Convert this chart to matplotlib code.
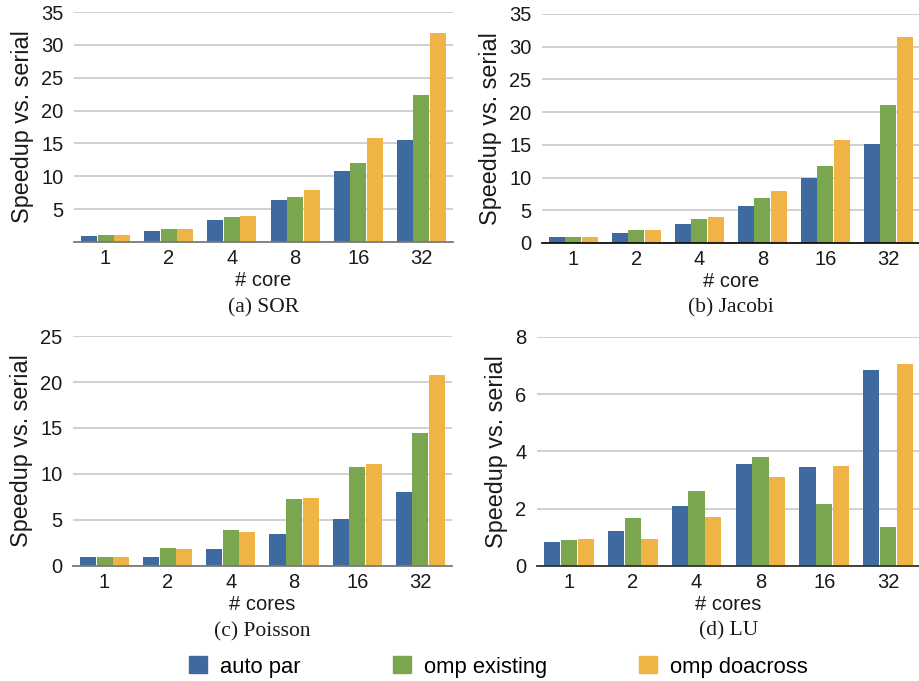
import matplotlib.pyplot as plt
import matplotlib.patches as mpatches
import numpy as np

plt.rcParams['font.family'] = ['Liberation Sans', 'DejaVu Sans']

cores = ['1', '2', '4', '8', '16', '32']
series_names = ['auto par', 'omp existing', 'omp doacross']
colors = ['#3F6A9F', '#79A64F', '#F0B446']

sor_auto = [0.91, 1.68, 3.35, 6.40, 10.82, 15.54]
sor_existing = [1.07, 1.98, 3.81, 6.86, 12.04, 22.40]
sor_doacross = [1.07, 1.98, 3.96, 7.92, 15.85, 31.84]

jacobi_auto = [0.97, 1.58, 2.95, 5.70, 9.97, 15.16]
jacobi_existing = [0.97, 2.03, 3.71, 6.92, 11.80, 21.10]
jacobi_doacross = [0.97, 2.03, 4.02, 7.99, 15.77, 31.49]

poisson_auto = [0.98, 0.98, 1.85, 3.48, 5.11, 8.04]
poisson_existing = [0.98, 1.96, 3.91, 7.28, 10.76, 14.46]
poisson_doacross = [0.98, 1.85, 3.70, 7.39, 11.09, 20.76]

lu_auto = [0.84, 1.22, 2.09, 3.56, 3.45, 6.84]
lu_existing = [0.91, 1.67, 2.62, 3.80, 2.16, 1.36]
lu_doacross = [0.94, 0.94, 1.71, 3.10, 3.49, 7.05]

panels = [
    # rect, series, ylim, yticks, xlabel, caption, spine colour
    ([0.0804, 0.6446, 0.412, 0.3377], [sor_auto, sor_existing, sor_doacross],
     35, [5, 10, 15, 20, 25, 30, 35], '# core', '(a) SOR', '#7a7a7a'),
    ([0.589, 0.6432, 0.411, 0.3363], [jacobi_auto, jacobi_existing, jacobi_doacross],
     35, [0, 5, 10, 15, 20, 25, 30, 35], '# core', '(b) Jacobi', '#111111'),
    ([0.0793, 0.1689, 0.412, 0.3377], [poisson_auto, poisson_existing, poisson_doacross],
     25, [0, 5, 10, 15, 20, 25], '# cores', '(c) Poisson', '#7a7a7a'),
    ([0.5837, 0.1689, 0.4163, 0.3363], [lu_auto, lu_existing, lu_doacross],
     8, [0, 2, 4, 6, 8], '# cores', '(d) LU', '#333333'),
]

fig = plt.figure(figsize=(9.2, 6.81), dpi=100)

x = np.arange(len(cores))
width = 0.254
step = 0.262

for rect, series, ymax, yticks, xlabel, caption, spine_col in panels:
    ax = fig.add_axes(rect)
    for i, vals in enumerate(series):
        ax.bar(x + (i - 1) * step, vals, width, color=colors[i], zorder=2)
    ax.set_xlim(-0.5, len(cores) - 0.5)
    ax.set_ylim(0, ymax)
    ax.set_yticks(yticks)
    ax.set_xticks(x)
    ax.set_xticklabels(cores)
    ax.tick_params(axis='both', length=0, labelsize=14.5, colors='#1a1a1a')
    ax.tick_params(axis='x', pad=5)
    ax.tick_params(axis='y', pad=7.5)
    ax.yaxis.grid(True, color='#c8c8c8', linewidth=1.2, zorder=0)
    ax.set_axisbelow(True)
    for side in ['top', 'right', 'left']:
        ax.spines[side].set_visible(False)
    ax.spines['bottom'].set_color(spine_col)
    ax.spines['bottom'].set_linewidth(1.3)
    ax.spines['bottom'].set_zorder(3)
    ax.set_ylabel('Speedup vs. serial', fontsize=16.8, color='#1a1a1a', labelpad=5)
    ax.set_xlabel(xlabel, fontsize=14.5, color='#1a1a1a', labelpad=2)
    ax.text(0.5, -0.285, caption, transform=ax.transAxes, ha='center', va='center',
            fontsize=15.5, family=['Liberation Serif', 'DejaVu Serif'], color='#1a1a1a')

handles = [mpatches.Patch(color=c, label=n) for c, n in zip(colors, series_names)]
fig.legend(handles=handles, loc='center', bbox_to_anchor=(0.542, 0.0206), ncol=3,
           frameon=False, fontsize=15.8, handlelength=0.82, handleheight=0.82,
           handletextpad=0.6, columnspacing=4.2)

fig.savefig('out.png', dpi=100, facecolor='white')
